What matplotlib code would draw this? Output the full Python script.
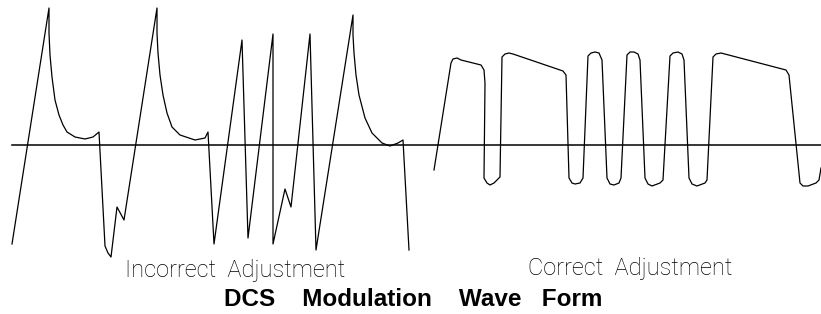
import matplotlib.pyplot as plt

# waveform samples (time, amplitude); zero line at amplitude 0
incorrect_t = [12, 49, 49, 50, 52, 55, 59, 63, 67, 75, 85, 93, 99, 105, 108, 111, 117, 124,
               157, 157, 158, 160, 163, 167, 172, 180, 195, 205, 208, 214, 242, 248, 273, 273,
               285, 291, 310, 316, 353, 353, 354, 356, 359, 365, 372, 382, 390, 398, 403, 409]
incorrect_v = [-99, 137, 112, 90, 68, 45, 30, 20, 13, 8, 6, 8, 13, -101, -108, -112, -62, -75,
               137, 112, 92, 70, 50, 32, 18, 10, 5, 7, 13, -99, 105, -93, 111, -99,
               -44, -62, 111, -105, 130, 110, 92, 70, 50, 27, 12, 2, -1, 2, 5, -105]

correct_t = [434, 451, 453, 457, 461, 481, 484, 485, 484, 487, 490, 494, 497, 500,
             502, 505, 509, 513, 563, 566, 569, 572, 575, 580, 583,
             588, 591, 595, 599, 602, 607, 610, 614, 619, 621,
             627, 630, 634, 638, 640, 645, 648, 652, 660, 663,
             670, 673, 678, 682, 684, 689, 692, 697, 705, 707,
             713, 716, 721, 786, 789, 800, 803, 808, 816, 819, 821]
correct_v = [-25, 82, 86, 87, 85, 80, 75, 62, -33, -38, -40, -38, -35, -32,
             88, 91, 92, 91, 74, 70, -33, -38, -39, -38, -33,
             89, 92, 93, 92, 85, -33, -39, -40, -38, -33,
             90, 93, 93, 91, 85, -33, -39, -41, -38, -35,
             89, 92, 93, 91, 85, -33, -39, -41, -38, -35,
             88, 91, 92, 75, 70, -38, -41, -41, -38, -35, -23]

zero_t = [12, 821]
zero_v = [0, 0]

fig = plt.figure(figsize=(8.21, 3.14), dpi=100)
ax = fig.add_axes([0, 0, 1, 1])
ax.set_xlim(0, 821)
ax.set_ylim(-169, 145)
ax.axis('off')

ax.plot(zero_t, zero_v, color='black', lw=1.1)
ax.plot(incorrect_t, incorrect_v, color='black', lw=0.9)
ax.plot(correct_t, correct_v, color='black', lw=0.9)

label_font = ['Roboto', 'DejaVu Sans']
ax.text(235, -125, 'Incorrect  Adjustment', ha='center', va='center', fontsize=17,
        family=label_font, fontweight='light', color='black')
ax.text(630, -123, 'Correct  Adjustment', ha='center', va='center', fontsize=17,
        family=label_font, fontweight='light', color='black')
ax.text(413, -155, 'DCS    Modulation    Wave   Form', ha='center', va='center',
        fontsize=17.5, fontweight='bold', family=['Liberation Sans', 'DejaVu Sans'])

plt.savefig('out.png', dpi=100)
